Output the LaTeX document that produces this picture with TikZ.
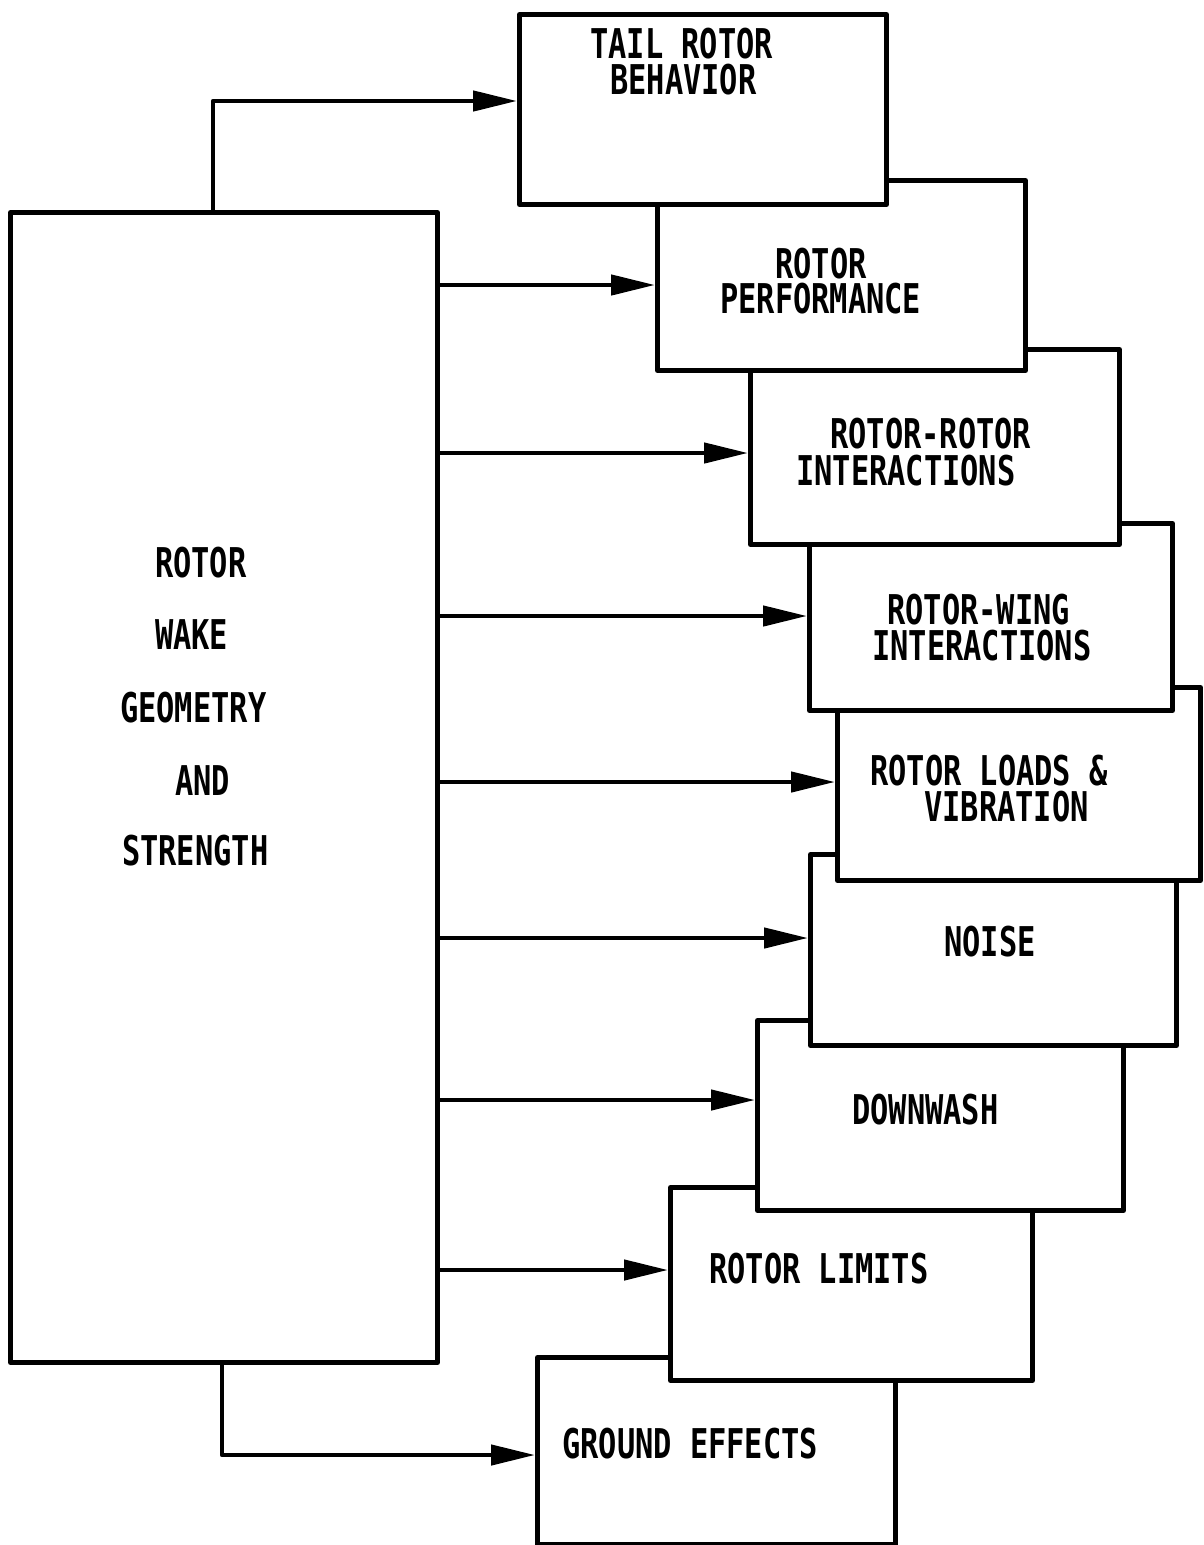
\documentclass[tikz,border=0pt]{standalone}
\usepackage{fontspec}
\newfontfamily\lblfont[FakeStretch=0.74]{DejaVu Sans Mono}
\usetikzlibrary{arrows.meta}
\tikzset{
  box/.style={draw=black, fill=white, line width=5pt, rectangle, inner sep=0pt, anchor=north west, line join=round},
  lbl/.style={inner sep=0pt, anchor=west, text height=30pt, text depth=0pt, xshift=-3pt,
              font=\lblfont\bfseries\fontsize{41}{41}\selectfont},
  arr/.style={line width=4.5pt, -{Triangle[length=44pt,width=20pt]}, line join=round}
}
\newcommand{\mkbox}[5]{%
  \node[box, minimum width={#4pt-#2pt}, minimum height={#5pt-#3pt}] (#1) at (#2,#3) {};}
\begin{document}
\begin{tikzpicture}[x=1pt,y=-1pt]
\useasboundingbox[fill=white] (0,0) rectangle (1203,1545);
% main box
\mkbox{main}{8}{210}{435}{1360}
% right boxes, drawn so that the upper one lies on top
\mkbox{b9}{535}{1355}{893}{1542}
\mkbox{b8}{668}{1185}{1030}{1378}
\mkbox{b7}{755}{1018}{1121}{1208}
\mkbox{b6}{808}{852}{1174}{1043}
\mkbox{b5}{835}{685}{1198}{878}
\mkbox{b4}{807}{521}{1170}{708}
\mkbox{b3}{748}{347}{1117}{542}
\mkbox{b2}{655}{178}{1023}{368}
\mkbox{b1}{517}{12}{884}{202}
% labels
\node[lbl] (m1) at (158,562) {ROTOR};
\node[lbl] (m2) at (158,634) {WAKE};
\node[lbl] (m3) at (123,707) {GEOMETRY};
\node[lbl] (m4) at (178,780) {AND};
\node[lbl] (m5) at (125,850) {STRENGTH};
\node[lbl] (t1a) at (593,43) {TAIL ROTOR};
\node[lbl] (t1b) at (613,79) {BEHAVIOR};
\node[lbl] (t2a) at (778,263) {ROTOR};
\node[lbl] (t2b) at (723,298) {PERFORMANCE};
\node[lbl] (t3a) at (833,433) {ROTOR-ROTOR};
\node[lbl] (t3b) at (799,470) {INTERACTIONS};
\node[lbl] (t4a) at (890,609) {ROTOR-WING};
\node[lbl] (t4b) at (875,645) {INTERACTIONS};
\node[lbl] (t5a) at (873,770) {ROTOR LOADS \&};
\node[lbl] (t5b) at (927,806) {VIBRATION};
\node[lbl] (t6) at (947,941) {NOISE};
\node[lbl] (t7) at (855,1109) {DOWNWASH};
\node[lbl] (t8) at (712,1268) {ROTOR LIMITS};
\node[lbl] (t9) at (565,1443) {GROUND EFFECTS};
% connector levels
\coordinate (y1) at (213,101);
\coordinate (y2) at (0,285);
\coordinate (y3) at (0,453);
\coordinate (y4) at (0,616);
\coordinate (y5) at (0,782);
\coordinate (y6) at (0,938);
\coordinate (y7) at (0,1100);
\coordinate (y8) at (0,1270);
\coordinate (y9) at (222,1455);
% connectors
\draw[arr] (main.north -| y1) |- (b1.west |- y1);
\draw[arr] (main.east |- y2) -- (b2.west |- y2);
\draw[arr] (main.east |- y3) -- (b3.west |- y3);
\draw[arr] (main.east |- y4) -- (b4.west |- y4);
\draw[arr] (main.east |- y5) -- (b5.west |- y5);
\draw[arr] (main.east |- y6) -- (b6.west |- y6);
\draw[arr] (main.east |- y7) -- (b7.west |- y7);
\draw[arr] (main.east |- y8) -- (b8.west |- y8);
\draw[arr] (main.south -| y9) |- (b9.west |- y9);
\end{tikzpicture}
\end{document}
